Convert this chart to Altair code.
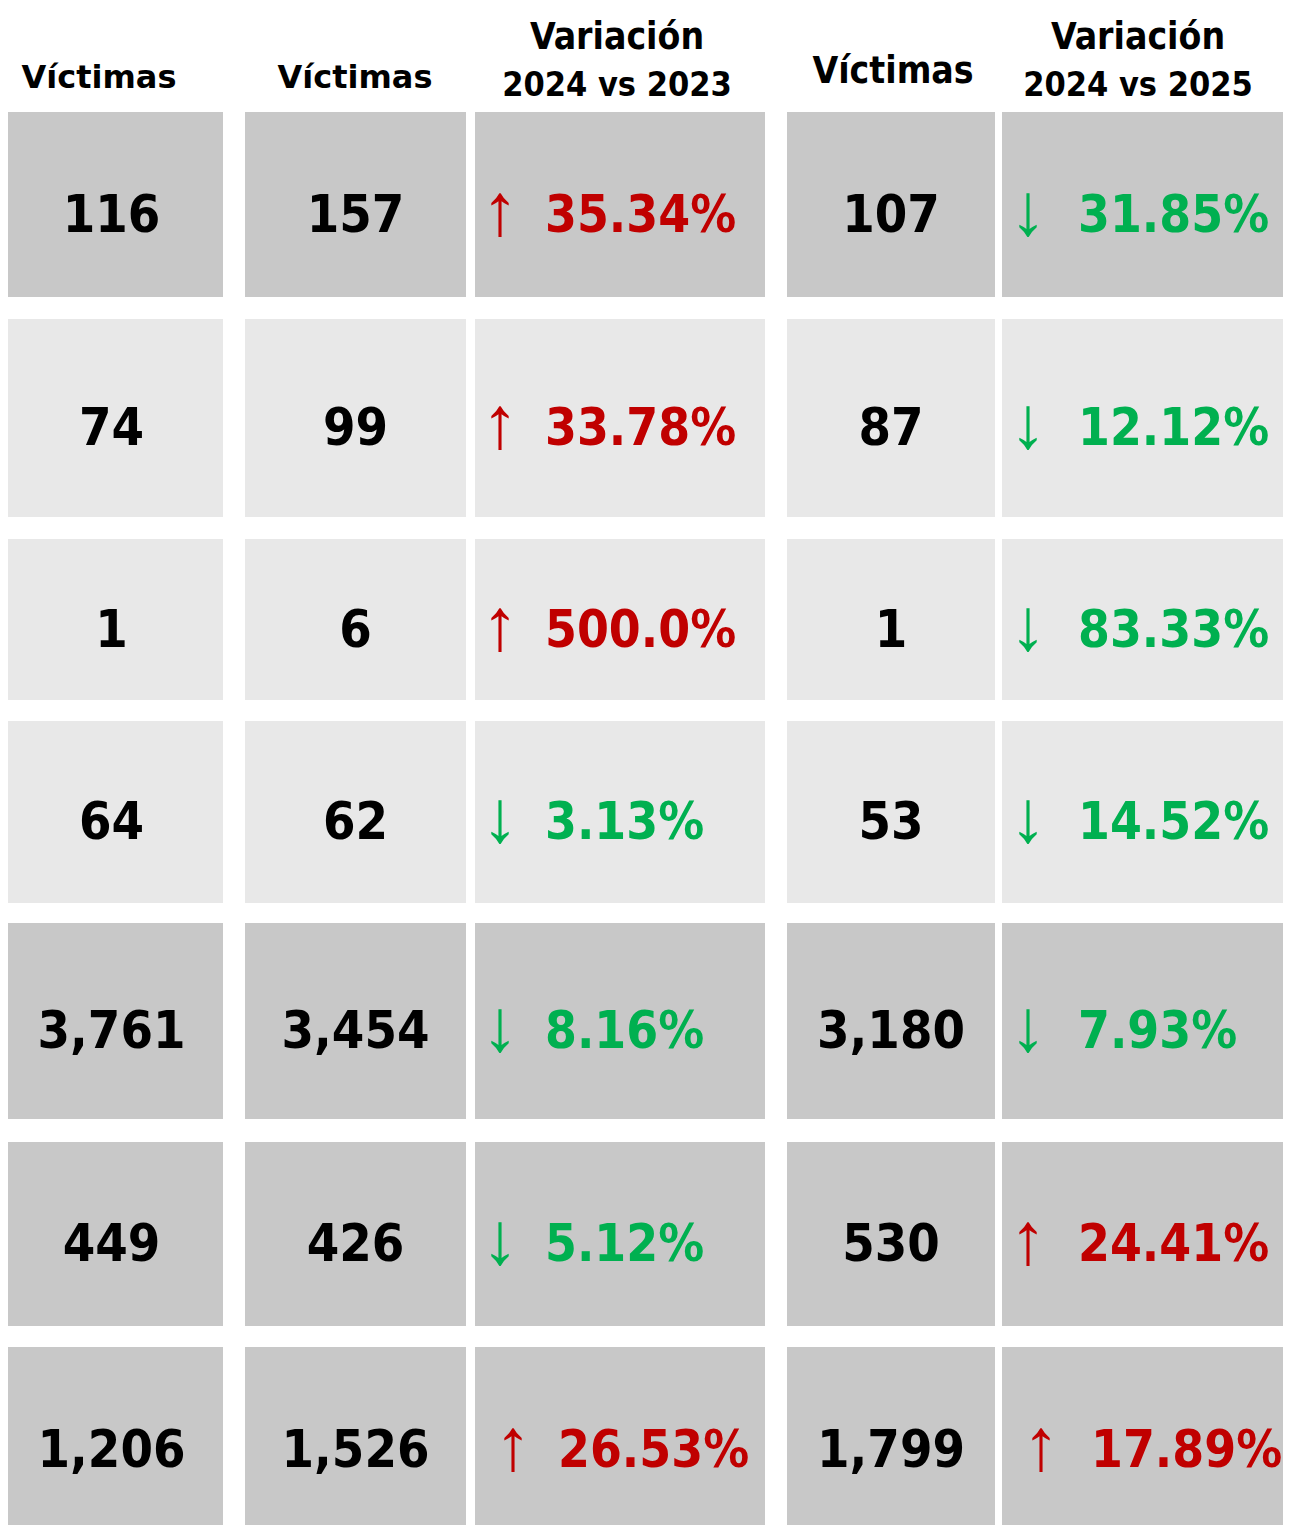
import altair as alt
import pandas as pd

# ---------------- data ----------------
victimas_a = [116, 74, 1, 64, 3761, 449, 1206]
victimas_b = [157, 99, 6, 62, 3454, 426, 1526]
var_ab = ["35.34%", "33.78%", "500.0%", "3.13%", "8.16%", "5.12%", "26.53%"]
dir_ab = ["up", "up", "up", "down", "down", "down", "up"]
victimas_c = [107, 87, 1, 53, 3180, 530, 1799]
var_bc = ["31.85%", "12.12%", "83.33%", "14.52%", "7.93%", "24.41%", "17.89%"]
dir_bc = ["down", "down", "down", "down", "down", "up", "up"]
row_shade = ["dark", "light", "light", "light", "dark", "dark", "dark"]

headers = [
    ["Víctimas"],
    ["Víctimas"],
    ["Variación", "2024 vs 2023"],
    ["Víctimas"],
    ["Variación", "2024 vs 2025"],
]

# ---------------- layout (reference pixel grid) ----------------
COL_EDGES = [(0, 223), (245, 466), (475, 765), (787, 995), (1002, 1290)]
ROW_EDGES = [(112, 297), (319, 517), (539, 700), (721, 903), (923, 1119), (1142, 1326), (1347, 1533)]
ROW_INDENT = [0, 0, 0, 0, 0, 0, 13]
PCT_OFFSET = {2: 70, 4: 76}
ARROW_OFFSET = {2: 25, 4: 26}
HEADER_X = [99, 355, 617, 893, 1138]

SHADE = {"dark": "#c8c8c8", "light": "#e8e8e8"}
RED, GREEN = "#c00000", "#00b050"
NUM_FONT = "DejaVu Sans Condensed"
HEAD_NARROW = "DejaVu Sans Condensed"
HEAD_WIDE = "DejaVu Sans"

# page pixel == reference pixel (page has an 8px margin)
W, H = 1275, 1517
xs = alt.Scale(domain=[8, 8 + W], range=[0, W], nice=False, zero=False)
ys = alt.Scale(domain=[8, 8 + H], range=[0, H], nice=False, zero=False)

def fmt(n):
    return f"{n:,}"

cells, nums, pcts = [], [], []
for r, (y0, y1) in enumerate(ROW_EDGES):
    yc = (y0 + y1) / 2
    for c, (x0, x1) in enumerate(COL_EDGES):
        cells.append({"x": x0, "x2": x1, "y": y0, "y2": min(y1, 8 + H), "fill": SHADE[row_shade[r]]})
    for c, vals in ((0, victimas_a), (1, victimas_b), (3, victimas_c)):
        x0, x1 = COL_EDGES[c]
        nums.append({"x": (x0 + x1) / 2, "y": yc, "label": fmt(vals[r])})
    for c, labs, dirs in ((2, var_ab, dir_ab), (4, var_bc, dir_bc)):
        x0, _ = COL_EDGES[c]
        up = dirs[r] == "up"
        pcts.append({
            "xa": x0 + ARROW_OFFSET[c] + ROW_INDENT[r],
            "xn": x0 + PCT_OFFSET[c] + ROW_INDENT[r],
            "y": yc,
            "arrow": "↑" if up else "↓",
            "label": labs[r],
            "color": RED if up else GREEN,
        })

head_rows = []
for c, lines in enumerate(headers):
    for i, t in enumerate(lines):
        if len(lines) == 1:
            yb = 88 if c < 2 else 83
            fs = 32 if c < 2 else 37
        else:
            yb = [49, 96][i]
            fs = [37, 34][i]
        head_rows.append({"x": HEADER_X[c], "y": yb, "label": t, "wide": c < 2, "fs": fs})

cells_df = pd.DataFrame(cells)
nums_df = pd.DataFrame(nums)
pcts_df = pd.DataFrame(pcts)
head_df = pd.DataFrame(head_rows)

rects = alt.Chart(cells_df).mark_rect().encode(
    x=alt.X("x:Q", scale=xs, axis=None),
    x2="x2:Q",
    y=alt.Y("y:Q", scale=ys, axis=None),
    y2="y2:Q",
    color=alt.Color("fill:N", scale=None),
)

num_text = alt.Chart(nums_df).mark_text(
    font=NUM_FONT, fontWeight="bold", fontSize=52, align="center",
    baseline="alphabetic", dy=27, color="#000000",
).encode(
    x=alt.X("x:Q", scale=xs, axis=None),
    y=alt.Y("y:Q", scale=ys, axis=None),
    text="label:N",
)

arrow_text = alt.Chart(pcts_df).mark_text(
    font="Liberation Sans", fontWeight="bold", fontSize=74, align="center",
    baseline="alphabetic", dy=30,
).encode(
    x=alt.X("xa:Q", scale=xs, axis=None),
    y=alt.Y("y:Q", scale=ys, axis=None),
    text="arrow:N",
    color=alt.Color("color:N", scale=None),
)

pct_text = alt.Chart(pcts_df).mark_text(
    font=NUM_FONT, fontWeight="bold", fontSize=51, align="left",
    baseline="alphabetic", dy=27,
).encode(
    x=alt.X("xn:Q", scale=xs, axis=None),
    y=alt.Y("y:Q", scale=ys, axis=None),
    text="label:N",
    color=alt.Color("color:N", scale=None),
)

head_wide = alt.Chart(head_df[head_df["wide"]]).mark_text(
    font=HEAD_WIDE, fontWeight="bold", align="center",
    baseline="alphabetic", color="#000000",
).encode(
    x=alt.X("x:Q", scale=xs, axis=None),
    y=alt.Y("y:Q", scale=ys, axis=None),
    text="label:N",
    size=alt.Size("fs:Q", scale=None, legend=None),
)

head_narrow = alt.Chart(head_df[~head_df["wide"]]).mark_text(
    font=HEAD_NARROW, fontWeight="bold", align="center",
    baseline="alphabetic", color="#000000",
).encode(
    x=alt.X("x:Q", scale=xs, axis=None),
    y=alt.Y("y:Q", scale=ys, axis=None),
    text="label:N",
    size=alt.Size("fs:Q", scale=None, legend=None),
)

chart = alt.layer(rects, num_text, arrow_text, pct_text, head_wide, head_narrow).properties(
    width=W, height=H, padding=0, autosize=alt.AutoSizeParams(type="none"),
    background="#ffffff",
).configure_view(stroke=None)

chart.save("out.html", embed_options={"renderer": "svg", "actions": False})
